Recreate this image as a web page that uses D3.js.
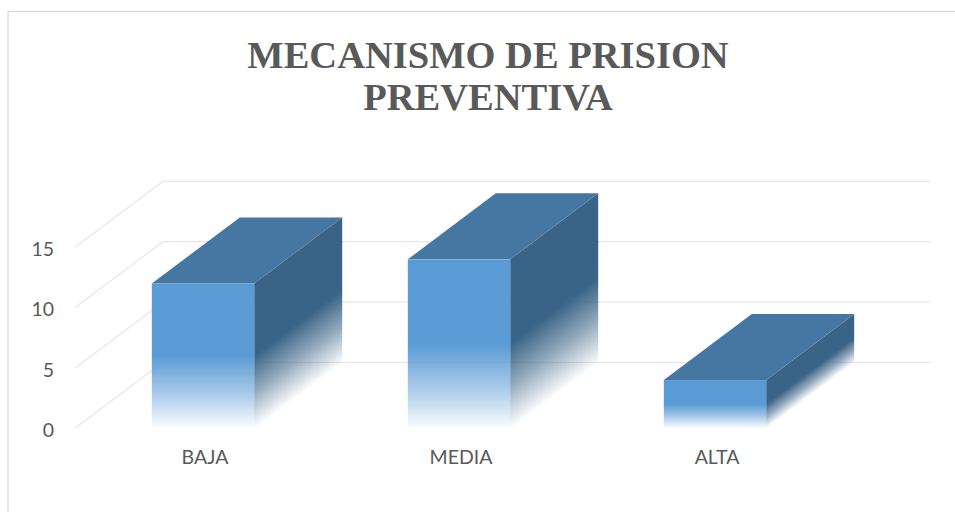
<!DOCTYPE html>
<html>
<head>
<meta charset="utf-8">
<script src="https://cdn.jsdelivr.net/npm/d3@7/dist/d3.min.js"></script>
<style>
  html, body { margin: 0; padding: 0; background: #ffffff; }
  svg { display: block; }
</style>
</head>
<body>
<script>
// ---- data ----
const categories = ["BAJA", "MEDIA", "ALTA"];
const values = [12, 14, 4];
const yTicks = [0, 5, 10, 15];
const titleLines = ["MECANISMO DE PRISION", "PREVENTIVA"];

// ---- layout ----
const W = 955, H = 512;
const depthX = 88, depthY = 66;
const frontLeft = 75, frontRight = 843;
const textColor = "#595959";

const svg = d3.select("body").append("svg").attr("width", W).attr("height", H);

// border (chart area frame; right/bottom edges fall outside the picture)
svg.append("rect")
  .attr("x", 8).attr("y", 11.5).attr("width", 1000).attr("height", 1000)
  .attr("fill", "none").attr("stroke", "#d9d9d9").attr("stroke-width", 1.3);

const y = d3.scaleLinear().domain([0, 15]).range([428.3, 247.3]);
const x = d3.scaleBand().domain(categories).range([frontLeft, frontRight])
  .paddingInner(0.6).paddingOuter(0.3);

const defs = svg.append("defs");
function fadeGrad(id, color) {
  const g = defs.append("linearGradient").attr("id", id)
    .attr("x1", 0).attr("y1", 0).attr("x2", 0).attr("y2", 1);
  g.append("stop").attr("offset", 0).attr("stop-color", color).attr("stop-opacity", 1);
  g.append("stop").attr("offset", 0.5).attr("stop-color", color).attr("stop-opacity", 1);
  g.append("stop").attr("offset", 0.75).attr("stop-color", color).attr("stop-opacity", 0.55);
  g.append("stop").attr("offset", 1).attr("stop-color", color).attr("stop-opacity", 0.02);
}
fadeGrad("frontGrad", "#5b9bd5");
fadeGrad("sideGrad", "#3a6487");

// ---- grid: back wall horizontals ----
const grid = svg.append("g");
grid.selectAll("line.back").data(yTicks).join("line")
  .attr("class", "back")
  .attr("x1", frontLeft + depthX).attr("x2", frontRight + depthX)
  .attr("y1", d => y(d) - depthY).attr("y2", d => y(d) - depthY)
  .attr("stroke", "#e8e8e8").attr("stroke-width", 1.3);
// left wall diagonals
grid.selectAll("line.side").data(yTicks).join("line")
  .attr("class", "side")
  .attr("x1", frontLeft).attr("x2", frontLeft + depthX)
  .attr("y1", d => y(d)).attr("y2", d => y(d) - depthY)
  .attr("stroke", "#e8e8e8").attr("stroke-width", 1.3);

// ---- bars ----
const skewDeg = -Math.atan(depthY / depthX) * 180 / Math.PI;
const bars = svg.append("g").selectAll("g.bar")
  .data(categories.map((c, i) => ({ c, v: values[i] })))
  .join("g").attr("class", "bar");

// side face (skewed so the gradient follows the slant)
bars.append("rect")
  .attr("transform", d => `translate(${x(d.c) + x.bandwidth()},0) skewY(${skewDeg})`)
  .attr("x", 0).attr("width", depthX)
  .attr("y", d => y(d.v)).attr("height", d => y(0) - y(d.v))
  .attr("fill", "url(#sideGrad)");

// top face
bars.append("path")
  .attr("d", d => {
    const x0 = x(d.c), x1 = x(d.c) + x.bandwidth(), t = y(d.v);
    return `M${x0},${t}L${x1},${t}L${x1 + depthX},${t - depthY}L${x0 + depthX},${t - depthY}Z`;
  })
  .attr("fill", "#4676a2");

// front face
bars.append("rect")
  .attr("x", d => x(d.c)).attr("width", x.bandwidth())
  .attr("y", d => y(d.v)).attr("height", d => y(0) - y(d.v))
  .attr("fill", "url(#frontGrad)");

// ---- axes ----
const yAxis = svg.append("g")
  .attr("transform", "translate(54,2)")
  .call(d3.axisLeft(y).tickValues(yTicks).tickSize(0).tickPadding(0).tickFormat(d3.format("d")));
yAxis.select(".domain").remove();
yAxis.selectAll("text")
  .attr("fill", textColor).style("font-family", "Lato, 'Open Sans', sans-serif").style("font-size", "19.5px");

const xAxis = svg.append("g")
  .attr("transform", "translate(2,450)")
  .call(d3.axisBottom(x).tickSize(0).tickPadding(0));
xAxis.select(".domain").remove();
xAxis.selectAll("text")
  .attr("fill", textColor).style("font-family", "Lato, 'Open Sans', sans-serif").style("font-size", "19.5px");

// ---- title (two lines) ----
svg.append("g").selectAll("text").data(titleLines).join("text")
  .attr("x", 488).attr("y", (d, i) => 67.5 + i * 42.8)
  .attr("text-anchor", "middle")
  .attr("fill", textColor)
  .style("font-family", "'Liberation Serif', 'Times New Roman', serif")
  .style("font-weight", "bold").style("font-size", "38.5px")
  .text(d => d);
</script>
</body>
</html>
